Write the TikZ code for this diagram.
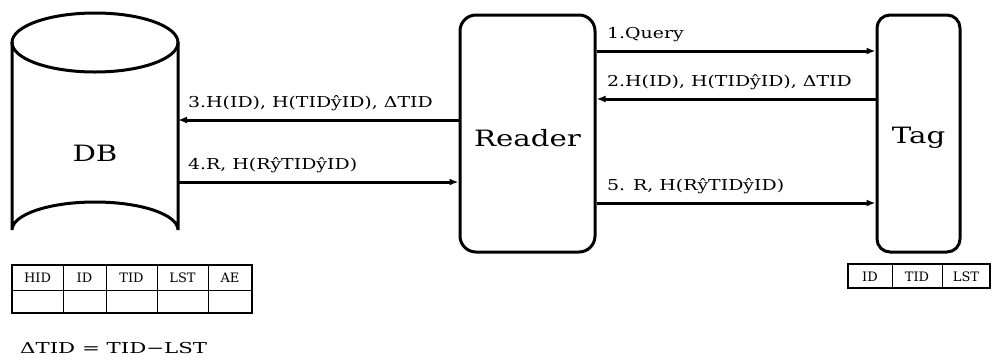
\documentclass[tikz,border=0pt]{standalone}
\usepackage{fontspec}
\usepackage{graphicx}
\setmainfont{DejaVu Serif}
\usetikzlibrary{arrows.meta}
\newcommand\lbl[1]{\scalebox{1.26}[1]{#1}}
\newcommand\bigwide[1]{\scalebox{1.3}[1]{#1}}
\newcommand\frm[1]{\scalebox{1.42}[1]{#1}}
\tikzset{
  shapeline/.style={line width=3pt, black},
  arr/.style={line width=3pt, -{Latex[length=9pt,width=7pt]}},
  msg/.style={anchor=base west, inner sep=0pt, font=\fontsize{15}{17}\selectfont},
  bigtext/.style={inner sep=0pt, font=\fontsize{22.5}{26}\selectfont},
  cell/.style={inner sep=0pt, font=\fontsize{13}{15}\selectfont},
  boxnode/.style={shapeline, draw, rounded corners=16pt, inner sep=0pt},
  outer/.style={line width=2.6pt},
  inner/.style={line width=1pt},
}
\begin{document}
\begin{tikzpicture}[x=1pt,y=-1pt]
\useasboundingbox (0,0) rectangle (993,360);
% DB cylinder
\draw[shapeline] (12,42) -- (12,230) arc[start angle=180,end angle=360,x radius=83,y radius=28] -- (178,42);
\draw[shapeline] (95,42.5) ellipse [x radius=83, y radius=29.5];
\node[bigtext] (DB) at (95,153) {\bigwide{DB}};
\coordinate (dbR) at (178,0);
% Reader and Tag
\node[boxnode, minimum width=135pt, minimum height=237pt] (Reader) at (527.5,133.5) {};
\node[bigtext] (ReaderT) at (527.5,138) {\bigwide{Reader}};
\node[boxnode, rounded corners=13pt, minimum width=83pt, minimum height=237pt] (Tag) at (918.5,133.5) {};
\node[bigtext] (TagT) at (918.5,138) {\bigwide{Tag}};
% arrow levels
\coordinate (y1) at (0,51);
\coordinate (y2) at (0,99);
\coordinate (y3) at (0,120);
\coordinate (y4) at (0,182);
\coordinate (y5) at (0,203);
\draw[arr] (Reader.east |- y1) -- (Tag.west |- y1);
\draw[arr] (Tag.west |- y2) -- (Reader.east |- y2);
\draw[arr] (Reader.west |- y3) -- (dbR |- y3);
\draw[arr] (dbR |- y4) -- (Reader.west |- y4);
\draw[arr] (Reader.east |- y5) -- (Tag.west |- y5);
% labels
\node[msg] (l1) at (607,38) {\lbl{1.Query}};
\node[msg] (l2) at (607,86) {\lbl{2.H(ID), H(TIDŷID), ΔTID}};
\node[msg] (l3) at (188,107) {\lbl{3.H(ID), H(TIDŷID), ΔTID}};
\node[msg] (l4) at (188,169) {\lbl{4.R, H(RŷTIDŷID)}};
\node[msg] (l5) at (607,190) {\lbl{5. R, H(RŷTIDŷID)}};
% DB table
\draw[inner] (12,290) -- (252,290);
\foreach \x in {63,106,157,208} \draw[inner] (\x,265) -- (\x,313);
\draw[outer] (12,265) rectangle (252,313);
\node[cell] (h1) at (37.5,278) {HID};
\node[cell] (h2) at (84.5,278) {ID};
\node[cell] (h3) at (131.5,278) {TID};
\node[cell] (h4) at (182.5,278) {LST};
\node[cell] (h5) at (230,278) {AE};
% Tag table
\foreach \x in {892,942} \draw[inner] (\x,264) -- (\x,288);
\draw[outer] (848,264) rectangle (990,288);
\node[cell] (t1) at (870,276.5) {ID};
\node[cell] (t2) at (917,276.5) {TID};
\node[cell] (t3) at (966,276.5) {LST};
% formula
\node[msg] (f) at (20,353) {\frm{ΔTID = TID−LST}};
\end{tikzpicture}
\end{document}
